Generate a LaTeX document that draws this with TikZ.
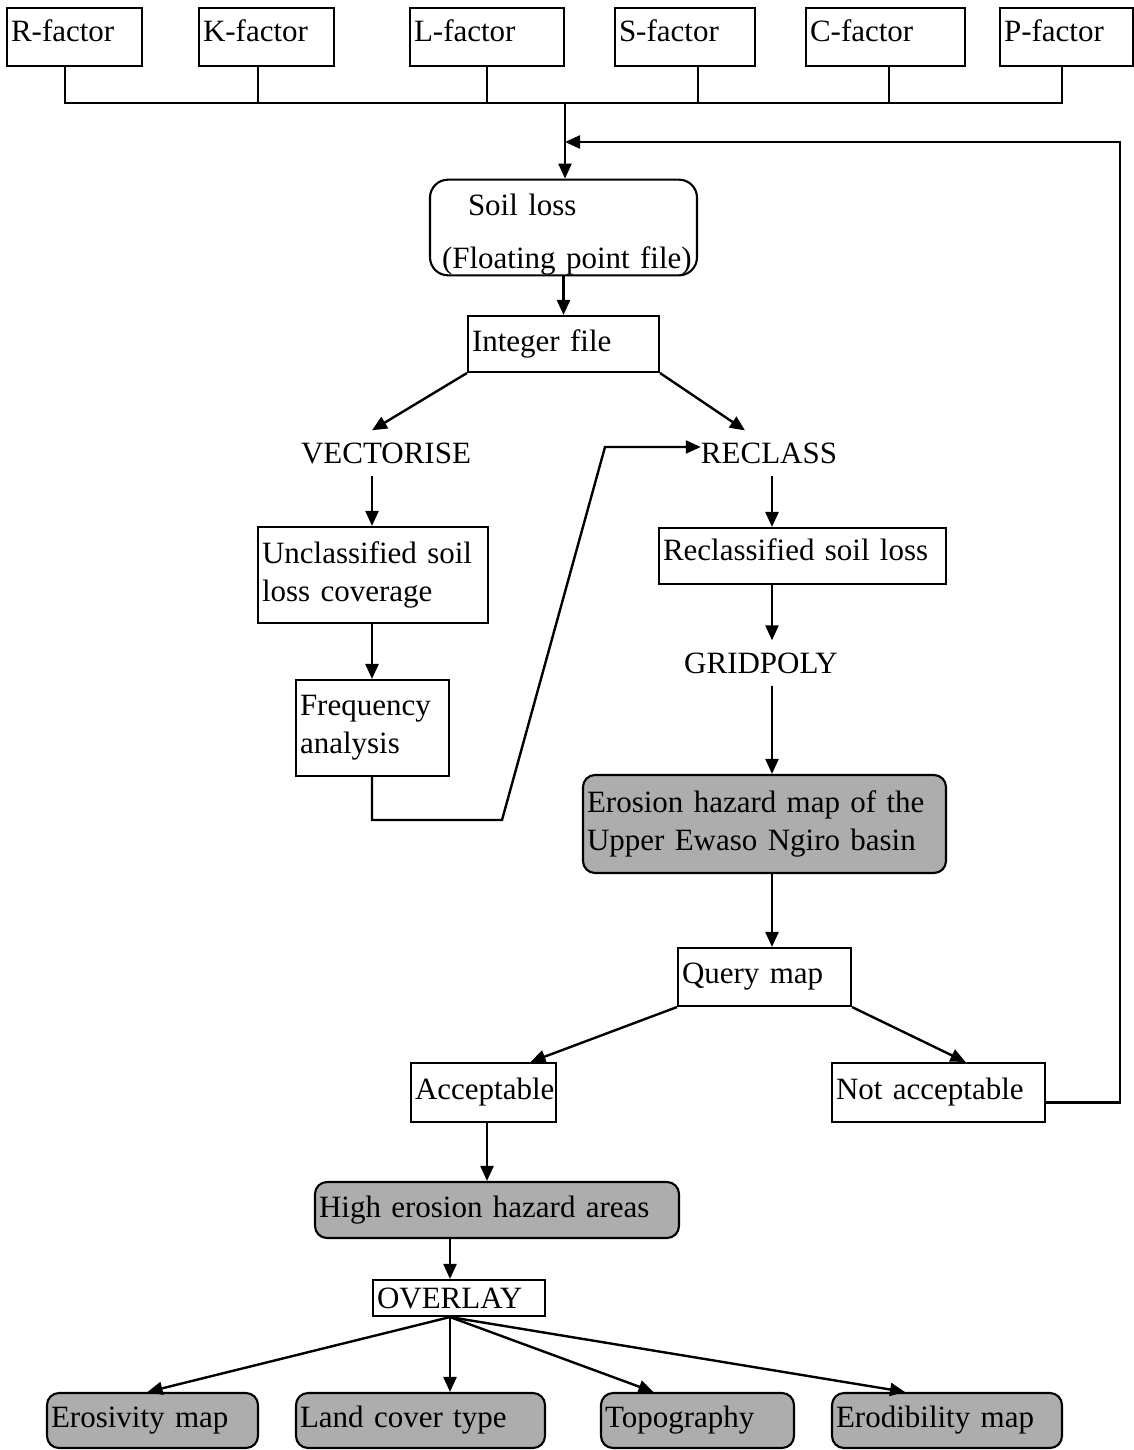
\documentclass[tikz,border=0pt]{standalone}
\usepackage{fontspec}
\setmainfont{Liberation Serif}
\usetikzlibrary{arrows.meta}
\tikzset{
  txt/.style={font=\fontsize{31}{38}\selectfont},
  box/.style={txt, draw, line width=2.1pt, rectangle, inner xsep=4pt, inner ysep=0pt, align=left},
  rbox/.style={box, rounded corners=12pt},
  shade/.style={rbox, fill=black!32},
  raised/.style={text height=21pt, text depth=12pt},
  lbl/.style={txt, inner xsep=0pt, inner ysep=12pt},
  line/.style={line width=2.4pt},
  arr/.style={line, -{Triangle[length=15pt,width=13pt]}}
}
\begin{document}
\begin{tikzpicture}[x=1pt,y=-1pt]
\useasboundingbox (0,0) rectangle (1134,1450);

% input factors
\node[box, raised, text width=127, minimum height=58] (R) at (74.5,37) {R-factor};
\node[box, raised, text width=127, minimum height=58] (K) at (266.5,37) {K-factor};
\node[box, raised, text width=146, minimum height=58] (L) at (487,37) {L-factor};
\node[box, raised, text width=132, minimum height=58] (S) at (685,37) {S-factor};
\node[box, raised, text width=151, minimum height=58] (C) at (885.5,37) {C-factor};
\node[box, raised, text width=125, minimum height=58] (P) at (1066.5,37) {P-factor};

% processing chain
\node[rbox, rounded corners=18pt, text width=259, minimum height=95] (soil) at (563.5,227.5)
  {\rule{0pt}{36pt}\hspace*{34pt}Soil loss\\[15pt]\hspace*{8pt}(Floating point file)};
\node[box, text width=183, minimum height=56] (int) at (563.5,344) {Integer file};
\node[lbl] (vec) at (386,453) {VECTORISE};
\node[lbl] (recl) at (769,453) {RECLASS};
\node[box, text width=222, minimum height=96] (unc) at (373,575) {Unclassified soil\\loss coverage};
\node[box, text width=145, minimum height=96] (freq) at (372.5,728) {Frequency\\analysis};
\node[box, raised, text width=279, minimum height=56] (rcl) at (802.5,556) {Reclassified soil loss};
\node[lbl] (grid) at (761,663) {GRIDPOLY};
\node[shade, text width=355, minimum height=98] (haz) at (764.5,824)
  {Erosion hazard map of the\\Upper Ewaso Ngiro basin};
\node[box, text width=165, minimum height=58] (qry) at (764.5,977) {Query map};
\node[box, text width=137, minimum height=59] (acc) at (483.5,1092.5) {Acceptable};
\node[box, text width=205, minimum height=59] (nacc) at (938.5,1092.5) {Not acceptable};
\node[shade, text width=356, minimum height=56] (high) at (497,1210) {High erosion hazard areas};
\node[box, text width=164, minimum height=36] (ovl) at (459,1298) {OVERLAY};

% output maps
\node[shade, text width=203, minimum height=55] (ero) at (152.5,1420.5) {Erosivity map};
\node[shade, text width=241, minimum height=55] (land) at (420.5,1420.5) {Land cover type};
\node[shade, text width=185, minimum height=55] (topo) at (697.5,1420.5) {Topography};
\node[shade, text width=222, minimum height=55] (erod) at (947,1420.5) {Erodibility map};

% helper coordinates for connector lines
\coordinate (bus) at (565,103);
\coordinate (fbtop) at (1120,142);
\coordinate (xl) at (372,0);
\coordinate (xr) at (772,0);
\coordinate (xa) at (487,0);
\coordinate (xo) at (450,0);
\coordinate (bend1) at (502,820);
\coordinate (bend2) at (605,447);

% factor bus
\draw[line] ([xshift=-9.5pt]R.south) |- ([xshift=-4.5pt]P.south |- bus) -- ([xshift=-4.5pt]P.south);
\draw[line] ([xshift=-8.5pt]K.south) -- ([xshift=-8.5pt]K.south |- bus);
\draw[line] (L.south) -- (L.south |- bus);
\draw[line] ([xshift=13pt]S.south) -- ([xshift=13pt]S.south |- bus);
\draw[line] ([xshift=3.5pt]C.south) -- ([xshift=3.5pt]C.south |- bus);
\draw[arr] (bus) -- (bus |- soil.north);

% feedback loop
\draw[arr] ([yshift=-10pt]nacc.east) -| (fbtop) -- (bus |- fbtop);

% main flow
\draw[arr] (soil.south) -- (int.north);
\draw[arr] (int.south west) -- ([xshift=-14pt]vec.north);
\draw[arr] (int.south east) -- ([xshift=-24pt]recl.north);
\draw[arr] (vec.south -| xl) -- (unc.north -| xl);
\draw[arr] (unc.south -| xl) -- (freq.north -| xl);
\draw[arr] (freq.south -| xl) |- (bend1) -- (bend2) -- (recl.west |- bend2);
\draw[arr] (recl.south -| xr) -- (rcl.north -| xr);
\draw[arr] (rcl.south -| xr) -- (grid.north -| xr);
\draw[arr] (grid.south -| xr) -- (haz.north -| xr);
\draw[arr] (haz.south -| xr) -- (qry.north -| xr);
\draw[arr] (qry.south west) -- ([xshift=47pt]acc.north);
\draw[arr] (qry.south east) -- ([xshift=27pt]nacc.north);
\draw[arr] (acc.south -| xa) -- (high.north -| xa);
\draw[arr] (high.south -| xo) -- (ovl.north -| xo);
\draw[arr] (ovl.south -| xo) -- ([xshift=-5pt]ero.north);
\draw[arr] (ovl.south -| xo) -- (land.north -| xo);
\draw[arr] (ovl.south -| xo) -- ([xshift=-44pt]topo.north);
\draw[arr] (ovl.south -| xo) -- ([xshift=-42pt]erod.north);
\end{tikzpicture}
\end{document}
